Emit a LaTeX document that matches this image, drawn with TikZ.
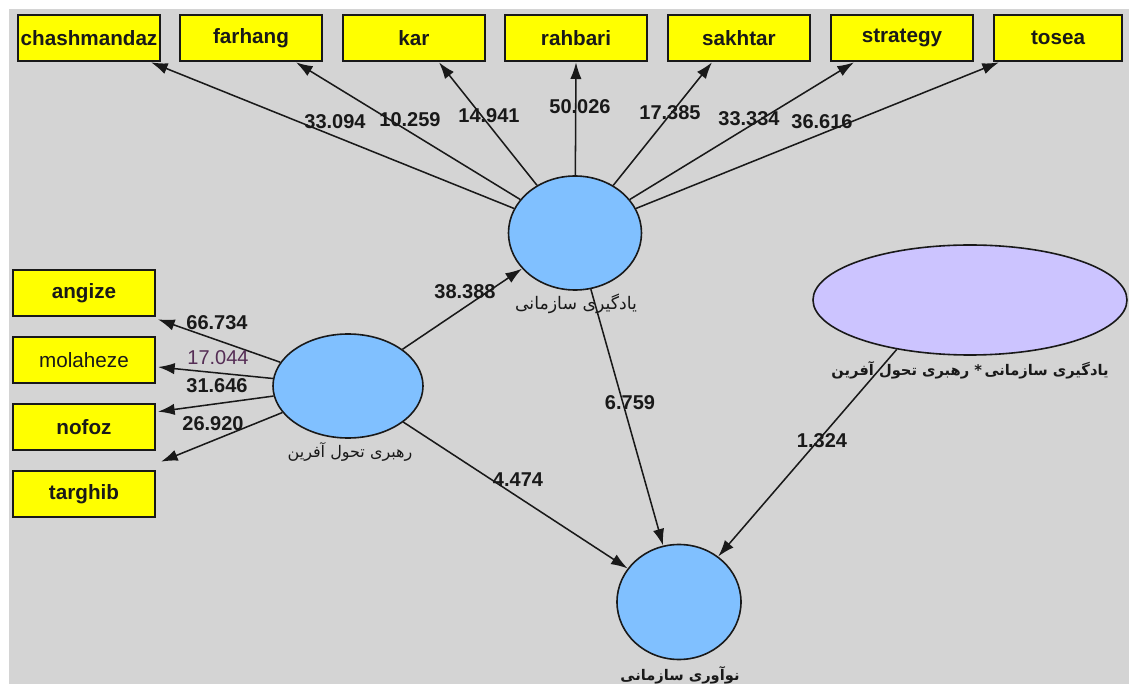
\documentclass[tikz,border=0pt]{standalone}
\usepackage{fontspec}
\setmainfont{Liberation Sans}
\newfontfamily\fa[Script=Arabic]{DejaVu Sans}
\TeXXeTstate=1
\usetikzlibrary{shapes.geometric,arrows.meta,calc}
\definecolor{bg}{RGB}{212,212,212}
\definecolor{ybox}{RGB}{255,255,0}
\definecolor{lblue}{RGB}{128,192,255}
\definecolor{lav}{RGB}{204,196,255}
\definecolor{ink}{RGB}{25,25,25}
\definecolor{purp}{RGB}{85,45,85}
\newcommand\rtlw[1]{\beginR#1\endR}
\begin{document}
\begin{tikzpicture}[x=0.75pt,y=-0.75pt,
  box/.style={draw=ink,line width=1.5pt,fill=ybox,minimum width=106.5pt,minimum height=35pt,inner sep=0pt,font=\fontsize{15.5}{18}\selectfont\bfseries,text=ink},
  lv/.style={draw=ink,line width=1.2pt,fill=lblue,ellipse,inner sep=0pt},
  arr/.style={draw=ink,line width=1.15pt,-{Latex[length=12.5pt,width=8.5pt]}},
  num/.style={font=\fontsize{15}{18}\selectfont\bfseries,text=ink,inner sep=0pt},
  fal/.style={font=\fa\fontsize{13}{15}\selectfont,text=ink,inner sep=0pt},
  fab/.style={font=\fa\bfseries\fontsize{11}{13}\selectfont,text=ink,inner sep=0pt}]
\useasboundingbox (0,0) rectangle (1129,684);
\fill[white] (0,0) rectangle (1129,684);
\fill[bg] (9,9) rectangle (1129,684);
% top indicator boxes
\node[box] (chash) at (89,38) {chashmandaz};
\node[box] (farhang) at (251,38) {farhang};
\node[box] (kar) at (414,38) {kar};
\node[box] (rahbari) at (576,38) {rahbari};
\node[box] (sakhtar) at (739,38) {sakhtar};
\node[box] (strategy) at (902,38) {strategy};
\node[box,minimum width=96pt] (tosea) at (1058,38) {tosea};
% left indicator boxes
\node[box] (angize) at (84,293) {angize};
\node[box,font=\fontsize{15.5}{18}\selectfont] (molaheze) at (84,360) {molaheze};
\node[box] (nofoz) at (84,427) {nofoz};
\node[box] (targhib) at (84,494) {targhib};
% latent variables
\node[lv,minimum width=99.75pt,minimum height=85.5pt] (OL) at (575,233) {};
\node[lv,minimum width=112.5pt,minimum height=78pt] (TL) at (348,386) {};
\node[lv,fill=lav,minimum width=235.5pt,minimum height=82.5pt] (inter) at (970,300) {};
\node[lv,minimum width=93pt,minimum height=86.25pt] (OI) at (679,602) {};
% latent labels (word order as printed in the picture)
\node[fal] (OLl) at (576,304) {\rtlw{سازمانی}\ \rtlw{یادگیری}};
\node[fal,font=\fa\fontsize{12}{14}\selectfont] (TLl) at (350,452) {\rtlw{آفرین}\ \rtlw{تحول}\ \rtlw{رهبری}};
\node[fab] (interl) at (970,370) {\rtlw{آفرین}\ \rtlw{تحول}\ \rtlw{رهبری}\ *\,\rtlw{سازمانی}\ \rtlw{یادگیری}};
\node[fab] (OIl) at (680,675) {\rtlw{سازمانی}\ \rtlw{نوآوری}};
% outer loadings of OL
\draw[arr] (OL) -- ($(chash.south)+(62,0)$);
\draw[arr] (OL) -- ($(farhang.south)+(45,0)$);
\draw[arr] (OL) -- ($(kar.south)+(25,0)$);
\draw[arr] (OL) -- (rahbari.south);
\draw[arr] (OL) -- ($(sakhtar.south)+(-27,0)$);
\draw[arr] (OL) -- ($(strategy.south)+(-48,0)$);
\draw[arr] (OL) -- ($(tosea.south)+(-59,0)$);
% outer loadings of TL
\draw[arr] (TL) -- ($(angize.south east)+(2,2)$);
\draw[arr] (TL) -- ($(molaheze.east)+(2,7)$);
\draw[arr] (TL) -- ($(nofoz.north east)+(2,9)$);
\draw[arr] (TL) -- ($(targhib.north east)+(5,-8)$);
% structural paths
\draw[arr] (TL) -- (OL);
\draw[arr] (OL) -- (OI);
\draw[arr] (TL) -- (OI);
\draw[arr] (inter.214) -- (OI);
% numbers
\node[num] (n1) at (335,122) {33.094};
\node[num] (n2) at (410,120) {10.259};
\node[num] (n3) at (489,116) {14.941};
\node[num] (n4) at (580,107) {50.026};
\node[num] (n5) at (670,113) {17.385};
\node[num] (n6) at (749,119) {33.334};
\node[num] (n7) at (822,122) {36.616};
\node[num] (n8) at (217,323) {66.734};
\node[num,font=\fontsize{15}{18}\selectfont,text=purp] (n9) at (218,358) {17.044};
\node[num] (n10) at (217,386) {31.646};
\node[num] (n11) at (213,424) {26.920};
\node[num] (n12) at (465,292) {38.388};
\node[num] (n13) at (630,403) {6.759};
\node[num] (n14) at (518,480) {4.474};
\node[num] (n15) at (822,441) {1.324};
\end{tikzpicture}
\end{document}
